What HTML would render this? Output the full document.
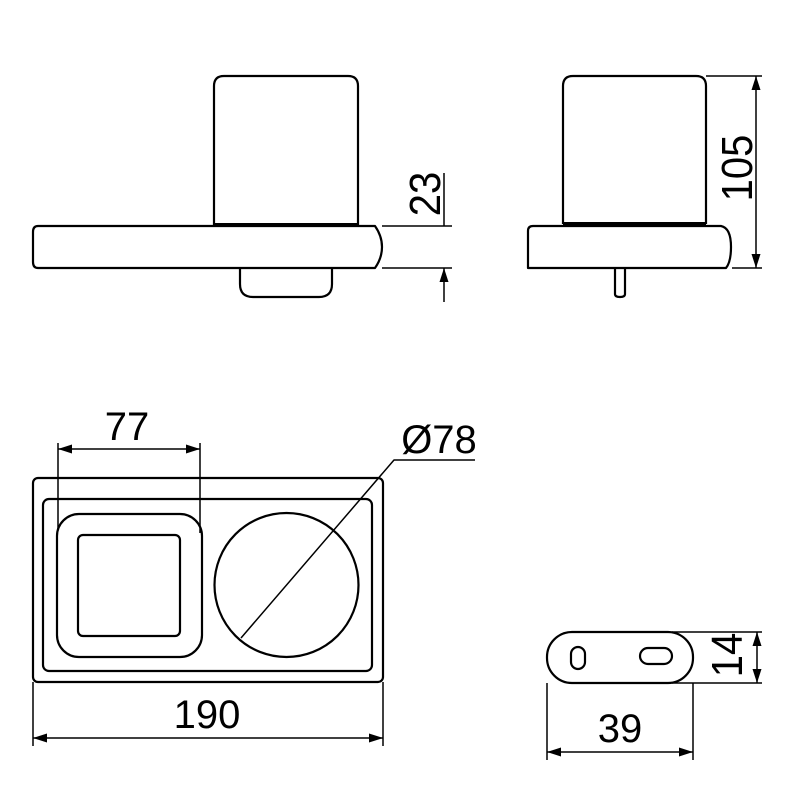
<!DOCTYPE html>
<html><head><meta charset="utf-8"><style>html,body{margin:0;padding:0;background:#fff}svg{display:block}</style></head>
<body>
<svg width="800" height="800" viewBox="0 0 800 800" xmlns="http://www.w3.org/2000/svg">
<defs>
<marker id="a" viewBox="0 0 14 9" refX="14" refY="4.5" markerWidth="14" markerHeight="9" markerUnits="userSpaceOnUse" orient="auto-start-reverse"><path d="M0,0 L14,4.5 L0,9 Z" fill="#000"/></marker>
</defs>
<g fill="none" stroke="#000" stroke-width="2.2" stroke-linejoin="round">
<path d="M214,225 L214,86 Q214,76 224,76 L348,76 Q358,76 358,86 L358,225"/>
<line x1="214" y1="225" x2="358" y2="225" stroke-width="4"/>
<path d="M38,226 L375,226 Q382,236 382,247 Q382,258 375,268 L38,268 Q33,268 33,262 L33,232 Q33,226 38,226 Z"/>
<path d="M240,268 L240,284 Q240,297 253,297 L319,297 Q332,297 332,284 L332,268"/>
<g stroke-width="1.5">
<line x1="382" y1="226" x2="452" y2="226"/>
<line x1="382" y1="268" x2="452" y2="268"/>
<line x1="444" y1="173" x2="444" y2="226"/>
<line x1="444" y1="302" x2="444" y2="268" marker-end="url(#a)"/>
</g>
<path d="M563,224 L563,86 Q563,76 573,76 L696,76 Q706,76 706,86 L706,224"/>
<line x1="563" y1="224" x2="706" y2="224" stroke-width="4"/>
<path d="M533,226 L721,226 Q731,228 731,247 Q731,262 726,268 L528,268 L528,231 Q528,226 533,226 Z"/>
<path d="M615,268 L615,294 Q615,297 620,297 Q625,297 625,294 L625,268"/>
<g stroke-width="1.5">
<line x1="706" y1="76" x2="762" y2="76"/>
<line x1="732" y1="268" x2="762" y2="268"/>
<line x1="756" y1="76" x2="756" y2="268" marker-start="url(#a)" marker-end="url(#a)"/>
</g>
<rect x="33" y="478" width="350" height="204" rx="5"/>
<rect x="43" y="499" width="329" height="172" rx="6"/>
<rect x="57" y="514" width="145" height="143" rx="22"/>
<rect x="78" y="535" width="102" height="101" rx="5"/>
<circle cx="286.5" cy="585" r="72"/>
<g stroke-width="1.5">
<polyline points="241,638 394,460 475,460"/>
<line x1="58" y1="443" x2="58" y2="530"/>
<line x1="200" y1="443" x2="200" y2="533"/>
<line x1="58" y1="449" x2="200" y2="449" marker-start="url(#a)" marker-end="url(#a)"/>
<line x1="33" y1="682" x2="33" y2="746"/>
<line x1="383" y1="682" x2="383" y2="746"/>
<line x1="33" y1="738" x2="383" y2="738" marker-start="url(#a)" marker-end="url(#a)"/>
</g>
<rect x="547" y="632" width="146" height="51" rx="25"/>
<rect x="571" y="647" width="14" height="22" rx="7"/>
<rect x="640" y="648" width="32" height="16" rx="8"/>
<g stroke-width="1.5">
<line x1="672" y1="632" x2="762" y2="632"/>
<line x1="672" y1="683" x2="762" y2="683"/>
<line x1="757" y1="632" x2="757" y2="683" marker-start="url(#a)" marker-end="url(#a)"/>
<line x1="547" y1="683" x2="547" y2="760"/>
<line x1="693" y1="683" x2="693" y2="760"/>
<line x1="547" y1="752" x2="693" y2="752" marker-start="url(#a)" marker-end="url(#a)"/>
</g>
</g>
<g font-family="Liberation Sans, sans-serif" font-size="40" fill="#000">
<text transform="translate(440,194) rotate(-90) scale(1,1.1)" text-anchor="middle">23</text>
<text transform="translate(752,168) rotate(-90) scale(1,1.1)" text-anchor="middle">105</text>
<text transform="translate(742,655) rotate(-90) scale(1,1.1)" text-anchor="middle">14</text>
<text x="127" y="440" text-anchor="middle">77</text>
<text x="439" y="453" text-anchor="middle">Ø78</text>
<text x="207" y="728" text-anchor="middle">190</text>
<text x="620" y="742" text-anchor="middle">39</text>
</g>
</svg>
</body></html>
